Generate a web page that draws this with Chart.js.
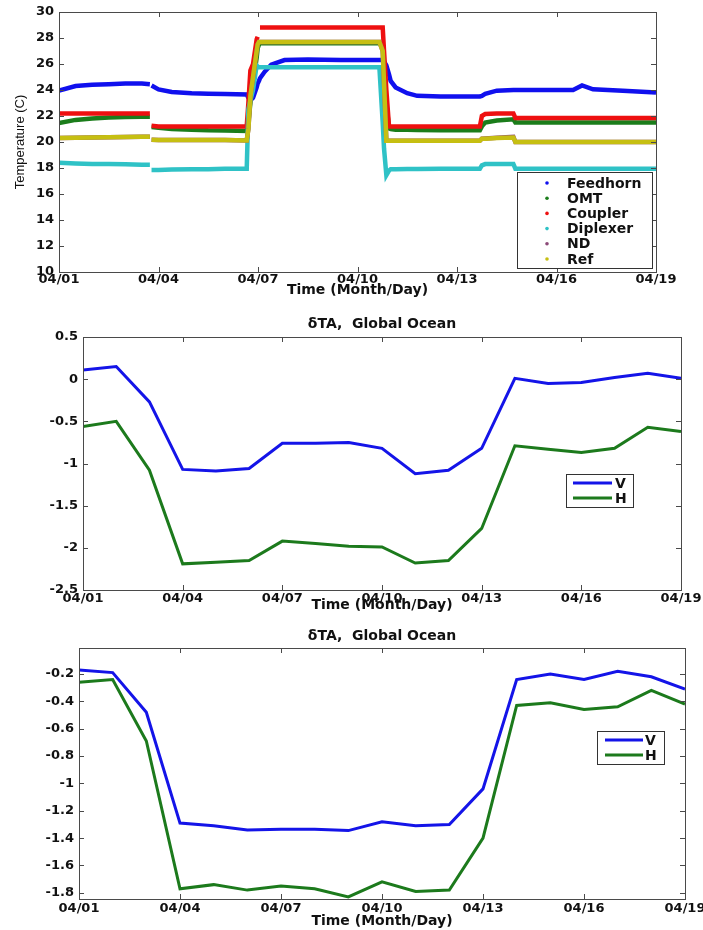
<!DOCTYPE html>
<html>
<head>
<meta charset="utf-8">
<script src="https://cdn.jsdelivr.net/npm/chart.js@4.4.1/dist/chart.umd.min.js"></script>
<style>
  body { margin: 0; background: #fff; }
  .panel { position: absolute; left: 0; width: 703px; }
  #p1 { top: 0; height: 300px; }
  #p2 { top: 300px; height: 315px; }
  #p3 { top: 615px; height: 315px; }
</style>
</head>
<body>
<div class="panel" id="p1"><canvas id="tempChart"></canvas></div>
<div class="panel" id="p2"><canvas id="dtaChart1"></canvas></div>
<div class="panel" id="p3"><canvas id="dtaChart2"></canvas></div>

<script>
/* AXIS TICKS (x = days since 04/01) */
const dayTicks = [0, 3, 6, 9, 12, 15, 18];
const dayLabels = ["04/01", "04/04", "04/07", "04/10", "04/13", "04/16", "04/19"];

/* RECEIVER TEMPERATURES */
const sensorDays = [
  0, 0.5, 1, 1.5, 2, 2.5, 2.74, 2.765, 2.79, 3.0,
  3.4, 4.0, 4.5, 5.0, 5.66, 5.71, 5.77, 5.85, 5.96, 5.99,
  6.03, 6.06, 6.2, 6.4, 6.8, 7.5, 8.5, 9.66, 9.76, 9.8,
  9.87, 9.95, 10.0, 10.15, 10.5, 10.8, 11.5, 12.4, 12.69, 12.75,
  12.85, 13.2, 13.7, 13.76, 14.5, 15.5, 15.77, 16.1, 17.0, 18.0
];
const feedhorn = [
  23.95, 24.3, 24.4, 24.45, 24.5, 24.5, 24.45, null, 24.35, 24.05,
  23.85, 23.75, 23.72, 23.7, 23.65, 23.4, 23.2, 23.4, 24.2, 24.5,
  24.7, 24.9, 25.4, 25.95, 26.3, 26.35, 26.3, 26.3, 26.3, 26.2,
  25.9, 25.2, 24.7, 24.2, 23.75, 23.55, 23.5, 23.5, 23.5, 23.55,
  23.7, 23.95, 24.0, 24.0, 24.0, 24.0, 24.35, 24.05, 23.95, 23.8
];
const omt = [
  21.45, 21.7, 21.8, 21.88, 21.92, 21.95, 21.95, null, 21.15, 21.1,
  21.0, 20.95, 20.9, 20.88, 20.85, 21.5, 23.0, 24.5, 26.5, 27.2,
  27.5, 27.6, 27.6, 27.6, 27.6, 27.6, 27.6, 27.6, 27.6, 25.5,
  23.0, 21.05, 21.0, 20.95, 20.95, 20.92, 20.9, 20.9, 20.9, 21.2,
  21.5, 21.65, 21.75, 21.5, 21.5, 21.5, 21.5, 21.5, 21.5, 21.5
];
const coupler = [
  22.2, 22.2, 22.2, 22.2, 22.2, 22.2, 22.2, null, 21.25, 21.2,
  21.2, 21.2, 21.2, 21.2, 21.2, 23.0, 25.5, 26.0, 27.9, 28.1,
  null, 28.8, 28.8, 28.8, 28.8, 28.8, 28.8, 28.8, 28.8, 27.0,
  24.0, 21.2, 21.2, 21.2, 21.2, 21.2, 21.2, 21.2, 21.2, 22.0,
  22.15, 22.2, 22.2, 21.85, 21.85, 21.85, 21.85, 21.85, 21.85, 21.85
];
const diplexer = [
  18.4, 18.35, 18.3, 18.3, 18.28, 18.25, 18.25, null, 17.85, 17.85,
  17.88, 17.9, 17.9, 17.95, 17.95, 22.5, 23.2, 24.0, 25.9, 25.8,
  25.75, 25.75, 25.75, 25.75, 25.75, 25.75, 25.75, 25.75, 21.5, 19.5,
  17.45, 17.8, 17.9, 17.9, 17.92, 17.92, 17.95, 17.95, 17.95, 18.2,
  18.3, 18.3, 18.3, 17.95, 17.95, 17.95, 17.95, 17.95, 17.95, 17.95
];
const nd = [
  20.3, 20.33, 20.35, 20.37, 20.38, 20.4, 20.4, null, 20.18, 20.15,
  20.15, 20.15, 20.15, 20.15, 20.12, 21.0, 23.5, 25.0, 27.0, 27.5,
  27.7, 27.7, 27.7, 27.7, 27.7, 27.7, 27.7, 27.7, 27.0, 24.5,
  20.1, 20.1, 20.1, 20.1, 20.1, 20.1, 20.1, 20.1, 20.1, 20.25,
  20.27, 20.33, 20.39, 20.0, 20.0, 20.0, 20.0, 20.0, 20.0, 20.0
];
const ref = [
  20.3, 20.33, 20.35, 20.37, 20.38, 20.4, 20.4, null, 20.18, 20.15,
  20.15, 20.15, 20.15, 20.15, 20.12, 21.0, 23.5, 25.0, 27.0, 27.5,
  27.7, 27.7, 27.7, 27.7, 27.7, 27.7, 27.7, 27.7, 27.0, 24.5,
  20.1, 20.1, 20.1, 20.1, 20.1, 20.1, 20.1, 20.1, 20.1, 20.25,
  20.25, 20.3, 20.35, 20.0, 20.0, 20.0, 20.0, 20.0, 20.0, 20.0
];
const tempTicks = [10, 12, 14, 16, 18, 20, 22, 24, 26, 28, 30];
const tempTickLabels = ["10", "12", "14", "16", "18", "20", "22", "24", "26", "28", "30"];

/* DAILY dTA, GLOBAL OCEAN */
const days = [0, 1, 2, 3, 4, 5, 6, 7, 8, 9, 10, 11, 12, 13, 14, 15, 16, 17, 18];
const dtaV1 = [0.11, 0.15, -0.27, -1.07, -1.09, -1.06, -0.76, -0.76, -0.75, -0.82,
               -1.12, -1.08, -0.82, 0.01, -0.05, -0.04, 0.02, 0.07, 0.01];
const dtaH1 = [-0.56, -0.5, -1.08, -2.19, -2.17, -2.15, -1.92, -1.95, -1.98, -1.99,
               -2.18, -2.15, -1.77, -0.79, -0.83, -0.87, -0.82, -0.57, -0.62];
const dtaTicks1 = [-2.5, -2, -1.5, -1, -0.5, 0, 0.5];
const dtaTickLabels1 = ["-2.5", "-2", "-1.5", "-1", "-0.5", "0", "0.5"];

const dtaV2 = [-0.17, -0.19, -0.48, -1.29, -1.31, -1.34, -1.335, -1.335, -1.345, -1.28,
               -1.31, -1.3, -1.04, -0.24, -0.2, -0.24, -0.18, -0.22, -0.31];
const dtaH2 = [-0.26, -0.24, -0.69, -1.77, -1.74, -1.78, -1.75, -1.77, -1.83, -1.72,
               -1.79, -1.78, -1.4, -0.43, -0.41, -0.46, -0.44, -0.32, -0.42];
const dtaTicks2 = [-1.8, -1.6, -1.4, -1.2, -1, -0.8, -0.6, -0.4, -0.2];
const dtaTickLabels2 = ["-1.8", "-1.6", "-1.4", "-1.2", "-1", "-0.8", "-0.6", "-0.4", "-0.2"];

/* STYLE */
const INK = "#111";
const FRAME = "#4a4a4a";
const tickFont = { family: "DejaVu Sans", size: 13, weight: "bold" };
const titleFont = { family: "DejaVu Sans", size: 14, weight: "bold" };

function pts(xs, ys) {
  return xs.map((x, i) => ({ x: x, y: ys[i] }));
}

/* PLUGINS */
// frame round the plot area with inward ticks on all four sides
const boxFrame = {
  id: "boxFrame",
  afterDatasetsDraw(chart) {
    const { ctx, chartArea: a, scales: { x, y } } = chart;
    ctx.save();
    ctx.strokeStyle = FRAME;
    ctx.lineWidth = 1;
    ctx.beginPath();
    x.ticks.forEach(t => {
      const px = Math.round(x.getPixelForValue(t.value)) + 0.5;
      ctx.moveTo(px, a.bottom); ctx.lineTo(px, a.bottom - 5);
      ctx.moveTo(px, a.top); ctx.lineTo(px, a.top + 5);
    });
    y.ticks.forEach(t => {
      const py = Math.round(y.getPixelForValue(t.value)) + 0.5;
      ctx.moveTo(a.left, py); ctx.lineTo(a.left + 5, py);
      ctx.moveTo(a.right, py); ctx.lineTo(a.right - 5, py);
    });
    ctx.stroke();
    ctx.strokeRect(Math.round(a.left) + 0.5, Math.round(a.top) + 0.5,
                   Math.round(a.right - a.left), Math.round(a.bottom - a.top));
    ctx.restore();
  }
};

// boxed legend placed inside the axes
const boxLegend = {
  id: "boxLegend",
  afterDraw(chart, args, o) {
    const ctx = chart.ctx;
    ctx.save();
    ctx.fillStyle = "#fff";
    ctx.fillRect(o.left, o.top, o.width, o.height);
    ctx.strokeStyle = "#333";
    ctx.lineWidth = 1;
    ctx.strokeRect(o.left + 0.5, o.top + 0.5, o.width, o.height);
    ctx.font = "bold 14px 'DejaVu Sans'";
    ctx.textBaseline = "middle";
    chart.data.datasets.forEach((ds, i) => {
      const yy = o.firstRow + i * o.rowStep;
      if (o.marker === "dot") {
        ctx.fillStyle = ds.borderColor;
        ctx.beginPath();
        ctx.arc(o.markX, yy, 1.8, 0, Math.PI * 2);
        ctx.fill();
      } else {
        ctx.strokeStyle = ds.borderColor;
        ctx.lineWidth = 3;
        ctx.beginPath();
        ctx.moveTo(o.markX, yy);
        ctx.lineTo(o.markX + o.markLen, yy);
        ctx.stroke();
      }
      ctx.fillStyle = INK;
      ctx.fillText(ds.label, o.textX, yy + 1);
    });
    ctx.restore();
  }
};

/* SCALES */
function dayAxis(height, titlePad, tickPad) {
  return {
    type: "linear",
    min: 0,
    max: 18,
    grid: { display: false, drawTicks: false },
    border: { display: false },
    afterBuildTicks: s => { s.ticks = dayTicks.map(v => ({ value: v })); },
    afterFit: s => { s.height = height; s.paddingLeft = 0; s.paddingRight = 0; },
    ticks: {
      padding: tickPad,
      color: INK,
      font: tickFont,
      maxRotation: 0,
      autoSkip: false,
      callback: (v, i) => dayLabels[i]
    },
    title: {
      display: true,
      text: "Time (Month/Day)",
      color: INK,
      font: titleFont,
      padding: { top: 0, bottom: titlePad }
    }
  };
}

function valueAxis(min, max, ticks, labels, width, title) {
  return {
    min: min,
    max: max,
    grid: { display: false, drawTicks: false },
    border: { display: false },
    afterBuildTicks: s => { s.ticks = ticks.map(v => ({ value: v })); },
    afterFit: s => { s.width = width; s.paddingTop = 0; s.paddingBottom = 0; },
    ticks: {
      padding: 5,
      color: INK,
      font: tickFont,
      autoSkip: false,
      callback: (v, i) => labels[i]
    },
    title: title || { display: false }
  };
}

function baseOptions() {
  return {
    responsive: true,
    maintainAspectRatio: false,
    animation: false,
    events: [],
    elements: { point: { radius: 0 }, line: { tension: 0 } },
    plugins: { legend: { display: false }, tooltip: { enabled: false } }
  };
}

/* TEMPERATURE CHART */
function sensorSet(label, values, color, order) {
  return {
    label: label,
    data: pts(sensorDays, values),
    borderColor: color,
    borderWidth: 4.5,
    spanGaps: false,
    order: order
  };
}

new Chart(document.getElementById("tempChart"), {
  type: "line",
  data: {
    datasets: [
      sensorSet("Feedhorn", feedhorn, "#1010ee", 5),
      sensorSet("OMT", omt, "#1b7d1b", 4),
      sensorSet("Coupler", coupler, "#ee1010", 3),
      sensorSet("Diplexer", diplexer, "#2fc2c6", 2),
      sensorSet("ND", nd, "#8c4a78", 1),
      sensorSet("Ref", ref, "#c6bf12", 0)
    ]
  },
  options: {
    ...baseOptions(),
    layout: { padding: { left: 0, right: 47, top: 12, bottom: 0 } },
    scales: {
      x: dayAxis(28, 1, 0),
      y: valueAxis(10, 30, tempTicks, tempTickLabels, 59, {
        display: true,
        text: "Temperature (C)",
        color: INK,
        font: { family: "Liberation Sans", size: 13 },
        padding: { top: 13, bottom: 0 }
      })
    },
    plugins: {
      legend: { display: false },
      tooltip: { enabled: false },
      boxLegend: {
        left: 517, top: 172, width: 135, height: 96,
        marker: "dot", markX: 547, textX: 567,
        firstRow: 183, rowStep: 15.2
      }
    }
  },
  plugins: [boxFrame, boxLegend]
});

/* dTA CHARTS */
function dtaSets(v, h) {
  return [
    { label: "V", data: pts(days, v), borderColor: "#1414e8", borderWidth: 3 },
    { label: "H", data: pts(days, h), borderColor: "#1c7a1c", borderWidth: 3 }
  ];
}

function dtaChart(id, v, h, yMin, yMax, ticks, labels, cfg) {
  new Chart(document.getElementById(id), {
    type: "line",
    data: { datasets: dtaSets(v, h) },
    options: {
      ...baseOptions(),
      layout: { padding: { left: 0, right: cfg.right, top: 0, bottom: 0 } },
      scales: {
        x: dayAxis(cfg.xHeight, cfg.xTitlePad, cfg.xTickPad),
        y: valueAxis(yMin, yMax, ticks, labels, cfg.yWidth)
      },
      plugins: {
        legend: { display: false },
        tooltip: { enabled: false },
        title: {
          display: true,
          fullSize: false,
          text: "\u03B4TA,  Global Ocean",
          color: INK,
          font: titleFont,
          padding: cfg.titlePad
        },
        boxLegend: cfg.legend
      }
    },
    plugins: [boxFrame, boxLegend]
  });
}

dtaChart("dtaChart1", dtaV1, dtaH1, -2.5, 0.5, dtaTicks1, dtaTickLabels1, {
  right: 22, yWidth: 83, xHeight: 25, xTitlePad: 1.6, xTickPad: 1,
  titlePad: { top: 16, bottom: 4.2 },
  legend: { left: 566, top: 174, width: 67, height: 33, marker: "line",
            markX: 573, markLen: 39, textX: 615, firstRow: 183, rowStep: 15 }
});

dtaChart("dtaChart2", dtaV2, dtaH2, -1.845, -0.01, dtaTicks2, dtaTickLabels2, {
  right: 18, yWidth: 79, xHeight: 31, xTitlePad: 0.6, xTickPad: 2,
  titlePad: { top: 12.6, bottom: 3.6 },
  legend: { left: 597, top: 116, width: 67, height: 33, marker: "line",
            markX: 605, markLen: 38, textX: 645, firstRow: 125, rowStep: 15 }
});
</script>
</body>
</html>
